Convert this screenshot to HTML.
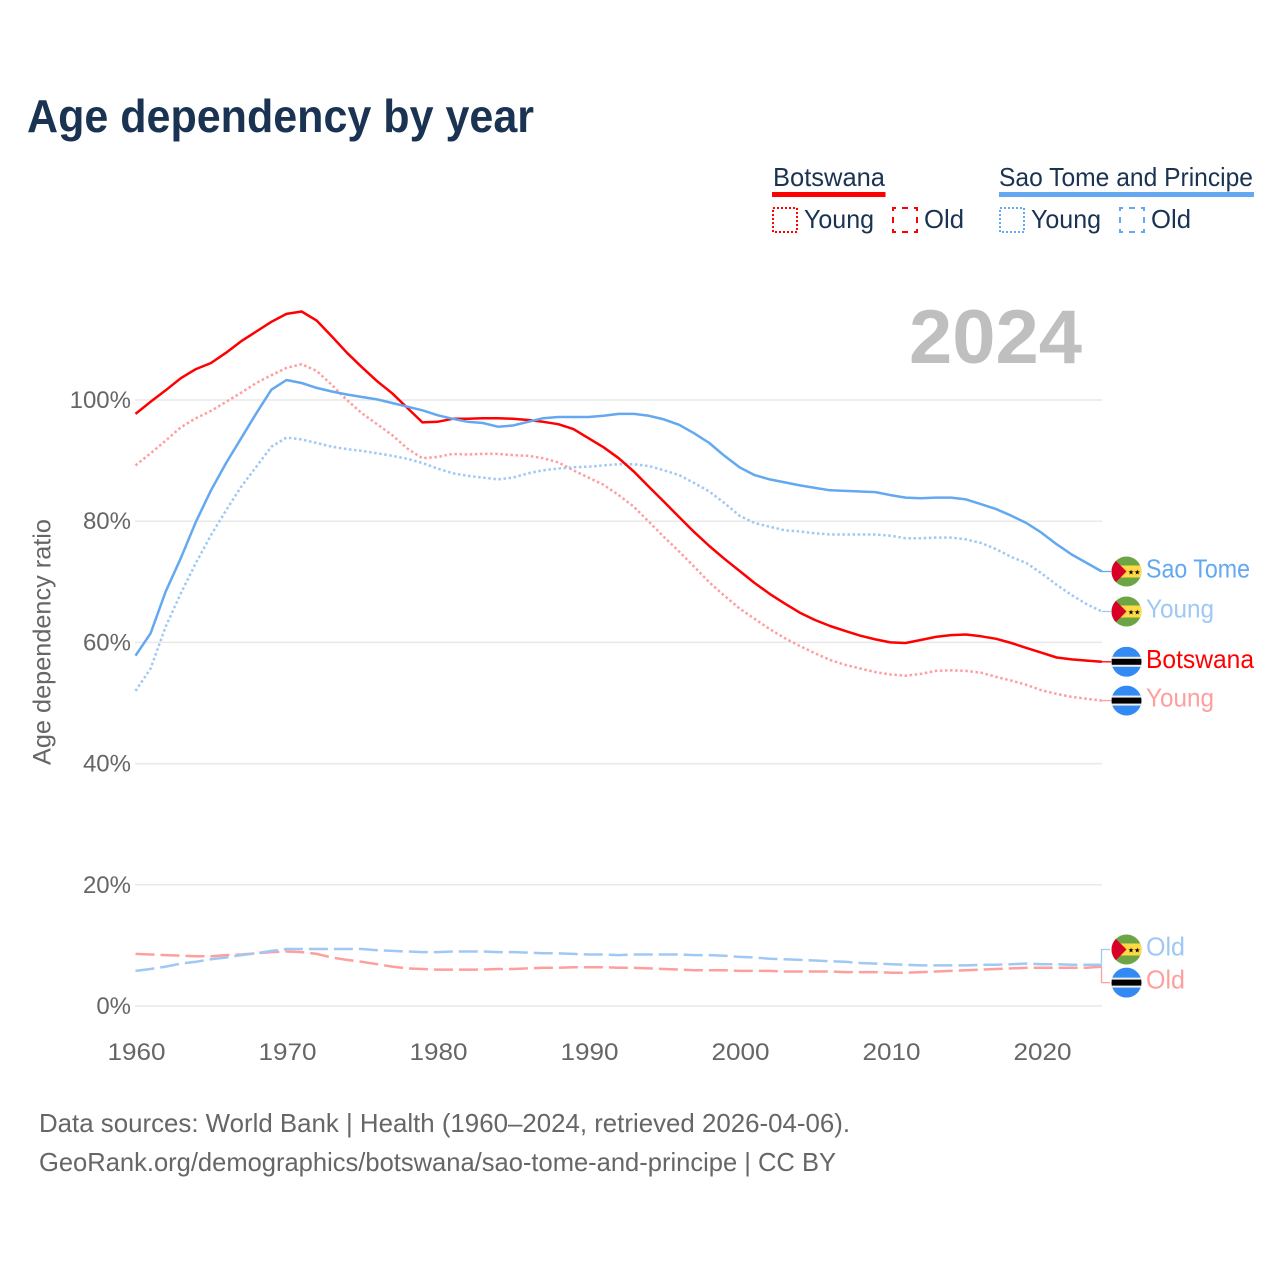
<!DOCTYPE html>
<html lang="en">
<head>
<meta charset="utf-8">
<title>Age dependency by year</title>
<style>
html,body{margin:0;padding:0;background:#fff}
svg{display:block}
text{font-family:"Liberation Sans",sans-serif}
</style>
</head>
<body>
<svg id="chart" width="1280" height="1280" viewBox="0 0 1280 1280" xmlns="http://www.w3.org/2000/svg">
  <rect width="1280" height="1280" fill="#fff"/>
  <text x="27" y="132" font-size="46" font-weight="700" fill="#1a3352" textLength="507" lengthAdjust="spacingAndGlyphs">Age dependency by year</text>

  <g>
    <text x="773" y="186" font-size="26" fill="#1a3352" textLength="112" lengthAdjust="spacingAndGlyphs">Botswana</text>
    <rect x="772" y="192" width="113.500" height="5" fill="#ff0000"/>
    <rect x="773" y="208" width="24" height="24" fill="none" stroke="#ff0000" stroke-width="2" stroke-dasharray="2 2"/>
    <text x="804" y="228" font-size="26" fill="#1a3352" textLength="70" lengthAdjust="spacingAndGlyphs">Young</text>
    <rect x="893" y="208" width="24" height="24" fill="none" stroke="#ff0000" stroke-width="2" stroke-dasharray="6 6" stroke-dashoffset="3"/>
    <text x="924" y="228" font-size="26" fill="#1a3352" textLength="40" lengthAdjust="spacingAndGlyphs">Old</text>

    <text x="999" y="186" font-size="26" fill="#1a3352" textLength="254" lengthAdjust="spacingAndGlyphs">Sao Tome and Principe</text>
    <rect x="999" y="192" width="255" height="5" fill="#63a8f0"/>
    <rect x="1000" y="208" width="24" height="24" fill="none" stroke="#63a8f0" stroke-width="2" stroke-dasharray="2 2"/>
    <text x="1031" y="228" font-size="26" fill="#1a3352" textLength="70" lengthAdjust="spacingAndGlyphs">Young</text>
    <rect x="1120" y="208" width="24" height="24" fill="none" stroke="#63a8f0" stroke-width="2" stroke-dasharray="6 6" stroke-dashoffset="3"/>
    <text x="1151" y="228" font-size="26" fill="#1a3352" textLength="40" lengthAdjust="spacingAndGlyphs">Old</text>
  </g>

  <g id="grid"></g>
  <text x="909" y="363" font-size="76" font-weight="700" fill="#bfbfbf" textLength="173" lengthAdjust="spacingAndGlyphs">2024</text>
  <text transform="translate(50.500,642) rotate(-90)" text-anchor="middle" font-size="25" fill="#666" textLength="246" lengthAdjust="spacingAndGlyphs">Age dependency ratio</text>
  <g id="xaxis"></g>
  <g id="yaxis"></g>
  <g id="series"></g>
  <g id="labels"></g>

  <g>
    <text x="39" y="1132" font-size="26" fill="#666" textLength="811" lengthAdjust="spacingAndGlyphs">Data sources: World Bank | Health (1960–2024, retrieved 2026-04-06).</text>
    <text x="39" y="1171" font-size="26" fill="#666" textLength="797" lengthAdjust="spacingAndGlyphs">GeoRank.org/demographics/botswana/sao-tome-and-principe | CC BY</text>
  </g>
</svg>
<script>
const startYear = 1960;
const xTickYears = [1960, 1970, 1980, 1990, 2000, 2010, 2020];
const yTickValues = [0, 20, 40, 60, 80, 100];
const yTickLabels = ['0%', '20%', '40%', '60%', '80%', '100%'];

const botswanaTotal = [97.7,99.7,101.6,103.6,105.1,106.1,107.8,109.7,111.3,112.9,
  114.2,114.6,113.1,110.5,107.8,105.4,103.1,101.1,98.7,96.3,
  96.4,96.9,96.9,97.0,97.0,96.9,96.7,96.4,96.0,95.2,
  93.7,92.2,90.4,88.2,85.7,83.2,80.7,78.2,75.9,73.8,
  71.8,69.8,68.0,66.4,64.9,63.7,62.7,61.9,61.1,60.5,
  60.0,59.9,60.4,60.9,61.2,61.3,61.0,60.6,59.9,59.1,
  58.3,57.5,57.2,57.0,56.8];
const botswanaYoung = [89.2,91.2,93.3,95.5,97.0,98.2,99.7,101.2,102.8,104.1,
  105.3,105.9,104.8,102.5,100.0,97.8,96.0,94.2,92.0,90.4,
  90.6,91.1,91.0,91.1,91.1,90.9,90.8,90.4,89.7,88.4,
  87.2,86.0,84.3,82.4,79.9,77.4,75.0,72.5,69.9,67.7,
  65.6,63.9,62.2,60.7,59.4,58.2,57.1,56.3,55.7,55.1,
  54.7,54.5,54.8,55.3,55.4,55.3,55.0,54.3,53.7,53.0,
  52.1,51.5,51.0,50.7,50.4];
const botswanaOld = [8.6,8.5,8.4,8.3,8.2,8.2,8.4,8.5,8.7,8.9,
  9.0,8.9,8.6,8.0,7.6,7.3,6.9,6.5,6.2,6.1,
  6.0,6.0,6.0,6.0,6.1,6.1,6.2,6.3,6.3,6.4,
  6.4,6.4,6.3,6.3,6.2,6.1,6.0,5.9,5.9,5.9,
  5.8,5.8,5.8,5.7,5.7,5.7,5.7,5.6,5.6,5.6,
  5.5,5.5,5.6,5.7,5.8,5.9,6.0,6.1,6.2,6.3,
  6.3,6.3,6.3,6.3,6.5];
const saoTomeTotal = [57.8,61.5,68.4,73.9,79.9,85.1,89.6,93.7,97.8,101.7,
  103.3,102.8,102.0,101.4,100.9,100.5,100.1,99.5,98.9,98.3,
  97.5,96.9,96.4,96.2,95.6,95.8,96.4,97.0,97.2,97.2,
  97.2,97.4,97.7,97.7,97.4,96.8,95.9,94.5,92.9,90.8,
  88.9,87.6,86.9,86.4,85.9,85.5,85.1,85.0,84.9,84.8,
  84.3,83.9,83.8,83.9,83.9,83.6,82.8,82.0,80.9,79.7,
  78.1,76.2,74.5,73.1,71.7];
const saoTomeYoung = [52.0,55.7,62.6,68.1,73.1,77.7,81.8,85.7,89.0,92.3,
  93.8,93.5,92.9,92.3,91.9,91.6,91.2,90.8,90.3,89.6,
  88.7,87.9,87.5,87.2,86.9,87.2,87.9,88.4,88.7,88.9,
  89.0,89.2,89.4,89.4,89.1,88.4,87.6,86.3,84.9,83.0,
  80.9,79.7,79.1,78.5,78.3,78.0,77.8,77.8,77.8,77.8,
  77.6,77.2,77.2,77.3,77.3,77.0,76.4,75.4,74.1,73.1,
  71.4,69.5,67.8,66.3,65.1];
const saoTomeOld = [5.8,6.1,6.5,7.0,7.3,7.7,8.0,8.4,8.7,9.1,
  9.4,9.4,9.4,9.4,9.4,9.4,9.2,9.1,9.0,8.9,
  8.9,9.0,9.0,9.0,8.9,8.9,8.8,8.7,8.7,8.6,
  8.5,8.5,8.4,8.5,8.5,8.5,8.5,8.4,8.4,8.3,
  8.1,8.0,7.8,7.7,7.6,7.5,7.4,7.3,7.1,7.0,
  6.9,6.8,6.7,6.7,6.7,6.7,6.8,6.8,6.9,7.0,
  6.9,6.9,6.8,6.8,6.8];

const NS = 'http://www.w3.org/2000/svg';
function xScale(year) { return 135.5 + (year - startYear) * 15.1; }
function yScale(value) { return 1006 - value * 6.06; }
function make(tag, attrs, parent, content) {
  const el = document.createElementNS(NS, tag);
  for (const key in attrs) el.setAttribute(key, attrs[key]);
  if (content !== undefined) el.textContent = content;
  parent.appendChild(el);
  return el;
}

const gridGroup = document.getElementById('grid');
const xAxisGroup = document.getElementById('xaxis');
const yAxisGroup = document.getElementById('yaxis');
const seriesGroup = document.getElementById('series');
const labelGroup = document.getElementById('labels');

yTickValues.forEach(function (value, i) {
  const line = make('line', {x1: 135, x2: 1102, y1: yScale(value), y2: yScale(value), stroke: '#e9e9e9', 'stroke-width': 1.5}, gridGroup);
  
  
  const label = make('text', {x: 131, y: yScale(value) + 8, 'text-anchor': 'end', 'font-size': 24, fill: '#666'}, yAxisGroup, yTickLabels[i]);
  
  
});

xTickYears.forEach(function (year) {
  const label = make('text', {x: xScale(year) + 1, y: 1060, 'text-anchor': 'middle', 'font-size': 24, fill: '#666', textLength: 58, lengthAdjust: 'spacingAndGlyphs'}, xAxisGroup, String(year));
  
  
});

function drawLine(values, color, width, dash) {
  const points = values.map(function (v, i) { return xScale(startYear + i).toFixed(1) + ',' + yScale(v).toFixed(1); }).join(' ');
  const attrs = {points: points, fill: 'none', stroke: color, 'stroke-width': width, 'stroke-linejoin': 'round'};
  if (dash) attrs['stroke-dasharray'] = dash;
  const line = make('polyline', attrs, seriesGroup);
  
  
  return line;
}

const RED = '#ff0000', BLUE = '#63a8f0', LIGHT_RED = '#ff9e9e', LIGHT_BLUE = '#a0c8f4';
const DOTTED = '2.5 2.6', DASHED = '19 6';

drawLine(botswanaOld, LIGHT_RED, 2.5, DASHED);
drawLine(saoTomeOld, LIGHT_BLUE, 2.5, DASHED);
drawLine(botswanaYoung, LIGHT_RED, 2.5, DOTTED);
drawLine(saoTomeYoung, LIGHT_BLUE, 2.5, DOTTED);
drawLine(botswanaTotal, RED, 2.5);
drawLine(saoTomeTotal, BLUE, 2.5);

const lastX = xScale(2024);
const FLAG_X = 1126.5;
let clipCount = 0;

function drawFlag(kind, cy) {
  clipCount += 1;
  const clipId = 'flag-clip-' + clipCount;
  const clip = make('clipPath', {id: clipId}, labelGroup);
  make('circle', {cx: FLAG_X, cy: cy, r: 15}, clip);
  const flag = make('g', {'clip-path': 'url(#' + clipId + ')'}, labelGroup);
  
  
  const left = FLAG_X - 15;
  if (kind === 'botswana') {
    make('rect', {x: left, y: cy - 15, width: 30, height: 30, fill: '#338af3'}, flag);
    make('rect', {x: left, y: cy - 5, width: 30, height: 10, fill: '#f0f0f0'}, flag);
    make('rect', {x: left, y: cy - 3, width: 30, height: 6, fill: '#000'}, flag);
  } else {
    make('rect', {x: left, y: cy - 15, width: 30, height: 30, fill: '#6da544'}, flag);
    make('rect', {x: left, y: cy - 6, width: 30, height: 12, fill: '#ffda44'}, flag);
    make('polygon', {points: left + ',' + (cy - 15) + ' ' + (left + 15) + ',' + cy + ' ' + left + ',' + (cy + 15), fill: '#d80027'}, flag);
    make('text', {x: FLAG_X + 4.5, y: cy + 3, 'text-anchor': 'middle', 'font-size': 7, fill: '#000', style: 'font-family:"DejaVu Sans",sans-serif'}, flag, '★');
    make('text', {x: FLAG_X + 10.8, y: cy + 3, 'text-anchor': 'middle', 'font-size': 7, fill: '#000', style: 'font-family:"DejaVu Sans",sans-serif'}, flag, '★');
  }
}

function drawEndLabel(values, text, color, kind, shift, width) {
  const endY = yScale(values[values.length - 1]);
  const flagY = endY + shift;
  let lead;
  if (shift === 0) {
    lead = make('polyline', {points: lastX + ',' + endY.toFixed(1) + ' 1111,' + flagY.toFixed(1), fill: 'none', stroke: color, 'stroke-width': 1.3}, labelGroup);
  } else {
    const elbowY = endY + (shift < 0 ? -1.5 : 1.5);
    lead = make('polyline', {points: '1101.5,' + elbowY.toFixed(1) + ' 1101.5,' + flagY.toFixed(1) + ' 1110,' + flagY.toFixed(1), fill: 'none', stroke: color, 'stroke-width': 1.3}, labelGroup);
  }
  
  
  drawFlag(kind, flagY);
  const label = make('text', {x: 1146, y: flagY + 6, 'font-size': 26, fill: color, textLength: width, lengthAdjust: 'spacingAndGlyphs'}, labelGroup, text);
  
  
}

drawEndLabel(saoTomeTotal, 'Sao Tome', BLUE, 'sao-tome', 0, 104);
drawEndLabel(saoTomeYoung, 'Young', LIGHT_BLUE, 'sao-tome', 0, 68);
drawEndLabel(botswanaTotal, 'Botswana', RED, 'botswana', 0, 108);
drawEndLabel(botswanaYoung, 'Young', LIGHT_RED, 'botswana', 0, 68);
drawEndLabel(saoTomeOld, 'Old', LIGHT_BLUE, 'sao-tome', -15.3, 39);
drawEndLabel(botswanaOld, 'Old', LIGHT_RED, 'botswana', 16, 39);
</script>
</body>
</html>
